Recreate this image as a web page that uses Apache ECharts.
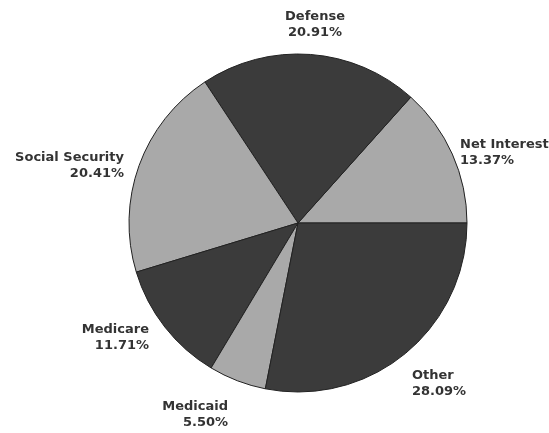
<!DOCTYPE html>
<html>
<head>
<meta charset="utf-8">
<script src="https://cdn.jsdelivr.net/npm/echarts@6/dist/echarts.min.js"></script>
<style>
  html, body { margin: 0; padding: 0; background: #fff; }
  #chart { width: 549px; height: 433px; }
</style>
</head>
<body>
<div id="chart"></div>
<script>
// 数据（百分比）
const categories = ['Net Interest', 'Defense', 'Social Security', 'Medicare', 'Medicaid', 'Other'];
const shares = [13.37, 20.91, 20.41, 11.71, 5.50, 28.09];
const sliceColors = ['#a9a9a9', '#3b3b3b', '#a9a9a9', '#3b3b3b', '#a9a9a9', '#3b3b3b'];

// 标签位置（像素）
const labelPos = [
  { x: 460, y: 153, align: 'left' },
  { x: 315, y: 25, align: 'center' },
  { x: 124, y: 166, align: 'right' },
  { x: 149, y: 338, align: 'right' },
  { x: 228, y: 415, align: 'right' },
  { x: 412, y: 384, align: 'left' }
];

document.addEventListener('DOMContentLoaded', () => {
  const myChart = echarts.init(document.getElementById('chart'));

  const seriesData = categories.map((name, i) => ({
    name: name,
    value: shares[i],
    itemStyle: { color: sliceColors[i] }
  }));

  myChart.setOption({
    animation: false,
    backgroundColor: '#fff',
    series: [{
      type: 'pie',
      center: [298, 223],
      radius: [0, 169],
      startAngle: 0,
      clockwise: false,
      itemStyle: { borderColor: '#222', borderWidth: 1 },
      label: {
        show: true,
        position: 'outside',
        overflow: 'none',
        formatter: (p) => p.name + '\n' + p.value.toFixed(2) + '%',
        fontFamily: 'DejaVu Sans, sans-serif',
        fontWeight: 'bold',
        fontSize: 13,
        lineHeight: 16,
        color: '#333'
      },
      labelLine: { show: false },
      labelLayout: (params) => {
        const p = labelPos[params.dataIndex];
        return { x: p.x, y: p.y, align: p.align, verticalAlign: 'middle' };
      },
      data: seriesData
    }]
  });
});
</script>
</body>
</html>
